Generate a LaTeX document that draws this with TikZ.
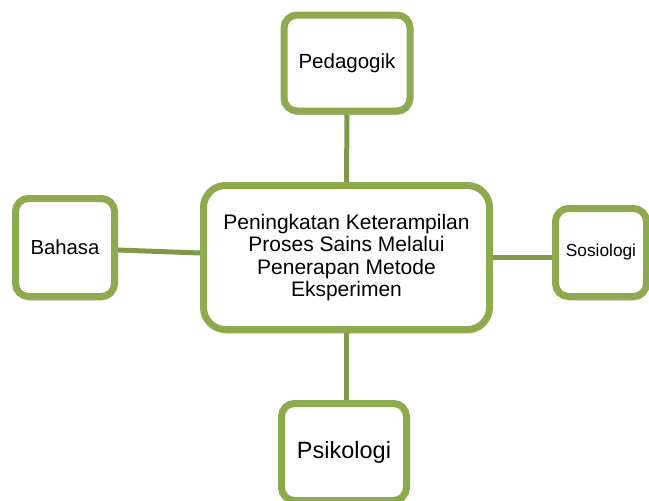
\documentclass[tikz,border=0pt]{standalone}
\usepackage{fontspec}
\setmainfont{Liberation Sans}
\usetikzlibrary{shadows,backgrounds}
\definecolor{boxgreen}{HTML}{8EAA4F}
\definecolor{linegreen}{HTML}{7E9A48}
\tikzset{
  box/.style={draw=boxgreen, line width=7pt, fill=white, rounded corners=#1,
    align=center, inner sep=0pt, text=black,
    drop shadow={shadow xshift=1pt, shadow yshift=-4pt, opacity=0.3, fill=black!60}},
  box/.default=13pt,
  link/.style={draw=linegreen, line width=5pt}
}
\begin{document}
\begin{tikzpicture}[x=1pt,y=-1pt]
\useasboundingbox (0,0) rectangle (649,501);
\node[box=22pt, minimum width=286pt, minimum height=144pt, font=\fontsize{21}{22.5}\selectfont] (central) at (346.5,257.5)
  {Peningkatan Keterampilan\\Proses Sains Melalui\\Penerapan Metode\\Eksperimen};
\node[box, minimum width=126pt, minimum height=96pt, font=\fontsize{20.5}{24}\selectfont] (ped) at (347,63) {Pedagogik};
\node[box, minimum width=99pt, minimum height=98pt, font=\fontsize{20.3}{24}\selectfont] (bah) at (65,247.5) {Bahasa};
\node[box, minimum width=91pt, minimum height=88pt, font=\fontsize{17.3}{20}\selectfont] (sos) at (601,252.5) {Sosiologi};
\node[box, minimum width=125pt, minimum height=97pt, font=\fontsize{23.5}{27}\selectfont] (psi) at (344,452) {Psikologi};
\begin{scope}[on background layer]
\draw[link] (ped.south) -- (central.north);
\draw[link] ([yshift=-2.5pt]bah.east) -- ([yshift=4.5pt]central.west);
\draw[link] (central.east) -- (central.east -| sos.west);
\draw[link] (central.south) -- (central.south |- psi.north);
\end{scope}
\end{tikzpicture}
\end{document}
